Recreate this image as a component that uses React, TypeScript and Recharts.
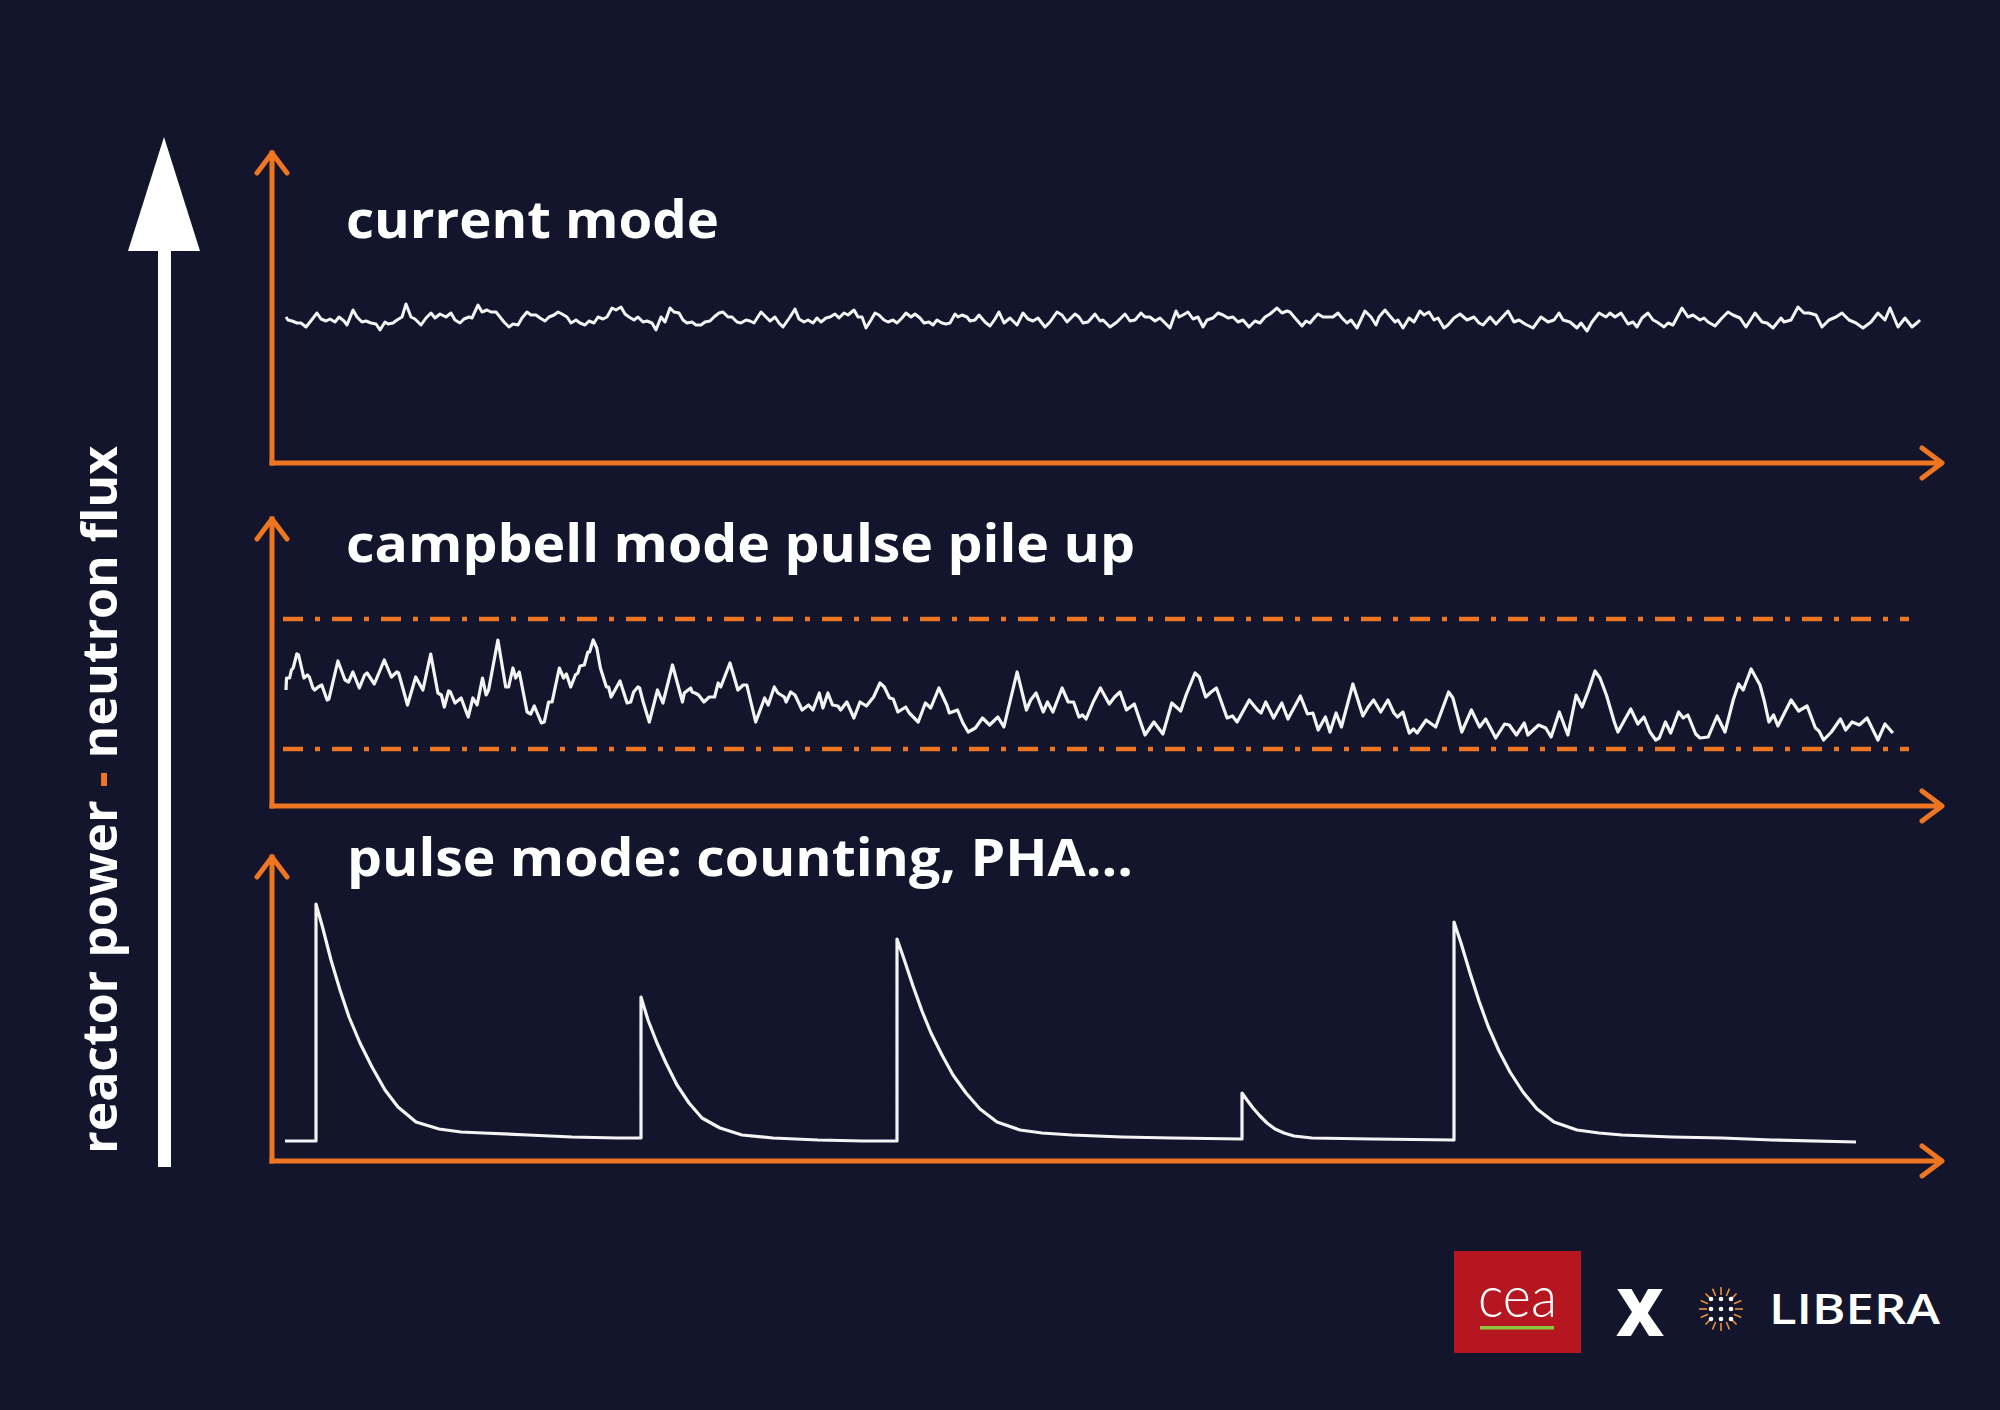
import React from 'react';
import { LineChart, Line, XAxis, YAxis, ReferenceLine, ReferenceDot } from 'recharts';

const W = 2000;
const H = 1410;
const BG = '#12152b';
const ORANGE = '#ee7623';
const TRACE = '#f4f4f4';
const FONT = "'Open Sans', 'DejaVu Sans', sans-serif";

// shared time axis (arbitrary units) and signal-amplitude axes for each panel
const TIME_DOMAIN: [number, number] = [0, 1668];
const CURRENT_DOMAIN: [number, number] = [0, 310];
const CAMPBELL_DOMAIN: [number, number] = [0, 287];
const PULSE_DOMAIN: [number, number] = [0, 304];

const PANEL_TITLES = ['current mode', 'campbell mode pulse pile up', 'pulse mode: counting, PHA...'];
const FLUX_LABEL = ['reactor power ', '-', ' neutron flux'];

// current mode: small noise around a constant level
const currentSignal: [number, number][] = [
  [14,146],[16,143],[20,142],[25,140],[29,140],[34,136],[38,141],[45,150],[49,144],[54,142],[58,144],[63,141],[67,146],[72,142],[75,138],[81,153],[85,146],[90,141],[94,142],[99,140],[104,139],[108,133],[113,141],[116,139],[121,140],[125,143],[130,146],[134,159],[139,146],[143,144],[149,138],[154,145],[159,150],[163,145],[168,149],[174,146],[179,150],[183,143],[188,140],[192,144],[197,146],[200,145],[206,158],[210,151],[215,153],[219,151],[224,151],[228,146],[232,141],[237,136],[241,139],[246,138],[250,145],[255,151],[259,148],[264,148],[268,145],[273,142],[277,146],[282,148],[286,151],[290,149],[295,146],[299,140],[304,143],[308,140],[313,138],[317,142],[322,140],[326,146],[331,144],[335,146],[340,155],[344,153],[349,156],[353,149],[357,146],[362,143],[366,146],[371,141],[375,142],[380,140],[384,133],[389,146],[393,141],[398,155],[402,151],[407,150],[411,143],[415,140],[420,141],[424,138],[429,138],[433,141],[438,142],[442,146],[447,150],[451,151],[456,146],[460,146],[465,141],[469,140],[474,143],[478,142],[482,140],[489,151],[494,146],[498,142],[503,146],[507,140],[511,136],[518,146],[523,154],[527,144],[532,141],[536,143],[541,140],[545,145],[549,141],[554,145],[558,146],[563,149],[567,145],[572,150],[576,148],[582,153],[586,146],[590,146],[594,135],[599,143],[603,150],[607,148],[612,143],[616,141],[621,143],[625,140],[630,145],[634,150],[639,146],[643,149],[648,145],[652,140],[657,141],[661,138],[665,143],[670,140],[674,139],[678,140],
  [683,149],[686,146],[690,148],[695,146],[698,142],[703,143],[707,148],[713,141],[718,137],[723,144],[727,151],[732,140],[738,145],[745,138],[751,150],[756,144],[761,142],[766,145],[773,136],[778,141],[785,151],[790,148],[795,141],[798,144],[803,149],[807,146],[811,140],[816,141],[823,149],[828,142],[831,143],[838,136],[845,141],[850,146],[853,149],[858,142],[863,143],[869,150],[873,146],[878,146],[883,142],[888,145],[893,140],[898,135],[904,152],[907,146],[911,148],[916,151],[921,144],[926,146],[931,136],[935,143],[941,145],[946,150],[951,148],[956,145],[961,146],[966,141],[971,143],[977,136],[983,142],[988,140],[993,146],[998,149],[1005,155],[1010,150],[1015,152],[1018,151],[1023,145],[1030,137],[1034,142],[1038,140],[1043,146],[1046,149],[1051,146],[1058,146],
  [1061,146],[1066,150],[1070,145],[1075,140],[1079,143],[1085,135],[1093,152],[1099,146],[1104,138],[1107,146],[1113,153],[1117,148],[1123,141],[1126,143],[1131,135],[1137,145],[1142,141],[1148,152],[1152,148],[1157,151],[1162,143],[1166,145],[1172,135],[1176,138],[1182,145],[1188,149],[1195,143],[1202,146],[1207,140],[1211,138],[1218,146],[1224,139],[1236,152],[1242,141],[1247,143],[1253,139],[1261,135],[1269,146],[1276,141],[1282,143],[1287,150],[1291,143],[1298,141],[1305,135],[1309,140],[1315,132],[1320,141],[1327,150],[1334,146],[1338,150],[1343,146],[1349,150],[1356,139],[1361,141],[1365,136],[1370,145],[1376,150],[1381,143],[1385,141],[1392,136],[1396,140],[1401,138],[1410,155],[1416,146],[1421,148],[1428,143],[1432,145],[1436,141],[1443,137],[1450,145],[1456,151],[1461,148],[1468,145],[1474,136],[1483,150],[1490,141],[1495,140],[1501,135],[1509,145],[1512,141],[1519,143],[1526,156],[1532,150],[1537,150],[1544,148],[1550,136],[1557,143],[1564,146],[1570,150],[1577,143],[1584,140],[1591,135],[1599,141],[1606,150],[1613,143],[1618,155],[1626,136],[1633,145],[1640,136],[1646,141],[1648,143],
];

// campbell mode: piled-up pulses, fluctuating between two bounds
const campbellSignal: [number, number][] = [
  [14,116],[14.5,128],[17.6,128],[19.4,136],[21.2,138],[24.8,152],[26.6,151],[31.9,128],[35.5,131],[37.3,129],[40.9,118],[42.6,116],[46.2,119],[49.8,121],[55.1,106],[56.9,107],[65.9,145],[73,126],[76.6,124],[80.9,134],[87.3,118],[92.6,131],[95.1,133],[102.3,122],[112.3,146],[119.4,129],[124.8,134],[126.6,133],[135.5,101],[143.7,129],[150.9,116],[158.7,152],[165.9,113],[169.4,111],[172.3,99],[176.6,115],[178.4,114],[183,103],[189.1,108],[196.2,89],[200.9,108],[205.1,101],[210.5,128],[214.1,111],[216.6,116],[225.9,166],[233.7,119],[236.6,119],[240.9,138],[243.7,128],[247.3,134],[255.1,94],[258.7,92],[262.3,100],[269.4,83],[272.3,84],[276.6,104],[280.1,104],[287.3,138],[291.6,128],[294.4,132],[298.7,119],[303.4,131],[305.9,133],[308,140],[312.3,141],[315.9,154],[317.6,154],[321.2,166],[324.8,158],[328.4,138],[334.4,119],[336.6,119],[339.1,109],[348,125],[355.1,103],[358.7,104],[361.6,114],[365.9,119],[367.6,118],[371.2,104],[377.3,84],[385.5,116],[390.9,103],[400.5,141],[410.5,104],[412.3,113],[418.7,118],[420.1,114],[423,113],[426.6,111],[431.9,104],[437.3,109],[442.6,109],[446.2,123],[448.7,119],[458,143],[465.9,116],[471.2,121],[474.8,121],[483.7,84],[492.6,108],[496.2,101],[502.3,119],[505.9,113],[512.3,109],[514.1,104],[518.7,114],[523,111],[530.1,96],[536.6,101],[540.9,96],[547.3,113],[550.9,98],[555.9,113],
  [560.5,101],[565.9,100],[568.7,96],[574.8,104],[581.9,88],[588,104],[594.4,100],[601.6,109],[608,123],[612.3,119],[617.6,108],[621.2,107],[625.9,94],[633.7,99],[637.3,93],[646.2,84],[653.4,103],[658.7,98],[666.9,118],[674.8,101],[677.3,93],[685.5,96],[690.9,83],[696.2,74],[703.4,78],[710.5,88],[717.6,81],[725.9,89],[731.9,79],[745.1,134],[754.4,96],[758.7,106],[764.1,113],[771.2,94],[775.5,104],[780.9,94],[790.1,118],[796.2,104],[801.6,104],[806.9,89],[810.5,91],[814.1,87],[821.2,104],[828.4,118],[837.3,102],[842.6,109],[848,114],[854.4,96],[862.3,102],[873,71],[881.9,84],[890.9,72],[899.8,103],[908.7,95],[914.1,111],[923,133],[927.3,129],[933.7,109],[939.1,114],[944.4,118],[955.1,88],[960.5,90],[965.1,84],[977.3,106],[985.5,96],[989.1,93],[993.7,104],[1001.6,88],[1009.8,103],[1015.9,87],[1028.4,110],[1035.5,92],[1040.9,93],[1046.2,76],[1053.4,89],[1058,74],[1064.1,93],[1069.4,79],[1080.9,122],[1090.9,90],[1096.2,99],[1101.6,106],
  [1108.7,94],[1115.9,106],[1121.9,93],[1125.5,89],[1130.9,94],[1137.3,73],[1141.6,77],[1145.1,73],[1154.1,86],[1163.7,79],[1176.6,114],[1180.9,108],[1189.8,74],[1199.4,96],[1207.6,79],[1213.7,87],[1223.7,68],[1232.6,82],[1237.3,81],[1244.4,71],[1252.3,83],[1255.9,71],[1266.6,81],[1273.7,78],[1279.1,69],[1287.3,94],[1295.9,71],[1304.1,111],[1310.1,99],[1316.6,116],[1323,135],[1328,128],[1334.4,111],[1342.3,84],[1345.9,74],[1358.7,97],[1365.9,82],[1371.9,89],[1378,74],[1383.7,66],[1387.3,68],[1393.4,84],[1398.7,73],[1406.6,94],[1411.2,88],[1415.9,91],[1423.7,72],[1428,68],[1436.2,69],[1445.1,90],[1453,74],[1461.2,106],[1466.6,122],[1471.2,116],[1479.1,137],[1488,121],[1492.3,105],[1496.9,84],[1501.6,91],[1505.9,80],[1519.1,106],[1526.6,95],[1535.1,100],[1543.4,78],[1547,75],[1551.6,66],[1559.4,74],[1568.4,87],[1573.7,76],[1580.1,84],[1587.3,81],[1595.1,88],[1605.9,66],[1613,82],[1620.9,73],
];
const campbellBounds = [57, 187];
const campbellBoundSpan: [number, number] = [11, 1637];

// pulse mode: separated pulses with fast rise and exponential-like decay
const pulseSignal: [number, number][] = [
  [13,20],[44,20],[44,257],[50.5,234],[59,201],[68,171],[77,144],[88,118],[100,94],[113,71],[126,54],[144,39],[167,32],[189,29],[211,28],[256,26],[300,24],[345,23],[369,23],
  [369,164],[376,141],[385,118],[394,98],[405,76],[417,58],[430,43],[448,33],[470,26],[501,23],[546,21],[591,20],[625,20],
  [625,222],[632,202],[641,175],[650,150],[659,128],[670,106],[681,86],[694,68],[708,52],[725,39],[748,31],[770,28],[800,26],[850,24],[900,23],[970,22],
  [970,68],[975,61],[981,53],[988,45],[995,38],[1003,32],[1012,28],[1022,25],[1040,23],[1100,22],[1182,21],
  [1182,239],[1189,218],[1198,188],[1207,160],[1216,135],[1227,110],[1238,89],[1251,69],[1265,52],[1282,39],[1305,31],[1327,28],[1350,26],[1400,24],[1450,23],[1500,21],[1584,19],
];

const XArrow = (p: any) => (
  <path
    d={`M${p.cx - 18},${p.cy - 15} L${p.cx + 2},${p.cy} L${p.cx - 18},${p.cy + 15}`}
    fill="none" stroke={ORANGE} strokeWidth={5} strokeLinecap="round" strokeLinejoin="round"
  />
);
const YArrow = (p: any) => (
  <path
    d={`M${p.cx - 15},${p.cy + 20} L${p.cx},${p.cy} L${p.cx + 15},${p.cy + 20}`}
    fill="none" stroke={ORANGE} strokeWidth={5} strokeLinecap="round" strokeLinejoin="round"
  />
);

type PanelProps = {
  top: number;
  height: number;
  mt: number;
  mb: number;
  domain: [number, number];
  data: [number, number][];
  strokeWidth: number;
  children?: React.ReactNode;
};

function Panel({ top, height, mt, mb, domain, data, strokeWidth, children }: PanelProps) {
  const rows = data.map(([t, v]) => ({ t, v }));
  const axisLine = { stroke: ORANGE, strokeWidth: 5, strokeLinecap: 'square' };
  return (
    <div style={{ position: 'absolute', left: 0, top, width: W, height }}>
      <LineChart width={W} height={height} margin={{ top: mt, right: 60, bottom: mb - 1, left: 271 }}>
        <XAxis dataKey="t" type="number" domain={TIME_DOMAIN} allowDataOverflow tick={false} tickLine={false} height={1} axisLine={axisLine as any} />
        <YAxis type="number" domain={domain} allowDataOverflow tick={false} tickLine={false} width={1} axisLine={axisLine as any} />
        {children}
        <Line data={rows} dataKey="v" type="linear" stroke={TRACE} strokeWidth={strokeWidth} strokeLinejoin="round" dot={false} activeDot={false} isAnimationActive={false} />
        <ReferenceDot x={TIME_DOMAIN[1]} y={domain[0]} r={0} ifOverflow="visible" shape={XArrow} />
        <ReferenceDot x={TIME_DOMAIN[0]} y={domain[1]} r={0} ifOverflow="visible" shape={YArrow} />
      </LineChart>
    </div>
  );
}

function Starburst({ cx, cy }: { cx: number; cy: number }) {
  const rays = Array.from({ length: 16 }, (_, i) => (i * Math.PI) / 8);
  const dots = [-10, 0, 10];
  return (
    <g>
      {rays.map((a, i) => (
        <line key={i} x1={cx + 14 * Math.cos(a)} y1={cy + 14 * Math.sin(a)} x2={cx + 22 * Math.cos(a)} y2={cy + 22 * Math.sin(a)} stroke="#e8913a" strokeWidth={1.6} />
      ))}
      {dots.map((dx) => dots.map((dy) => <circle key={`${dx}_${dy}`} cx={cx + dx} cy={cy + dy} r={2.3} fill="#ffffff" />))}
    </g>
  );
}

export default function App() {
  return (
    <div style={{ position: 'absolute', left: 0, top: 0, width: W, height: H, background: BG, overflow: 'hidden' }}>
      <svg width={W} height={H} style={{ position: 'absolute', left: 0, top: 0 }}>
        <rect width={W} height={H} fill={BG} />
        {/* big power arrow */}
        <polygon points="164,137 128,251 200,251" fill="#ffffff" />
        <rect x={158} y={249} width={13} height={918} fill="#ffffff" />
        <text transform="translate(117,1154) rotate(-90)" fontFamily={FONT} fontWeight={700} fontSize={48} fill="#ffffff" textLength={708} lengthAdjust="spacingAndGlyphs">
          <tspan>{FLUX_LABEL[0]}</tspan>
          <tspan fill={ORANGE}>{FLUX_LABEL[1]}</tspan>
          <tspan>{FLUX_LABEL[2]}</tspan>
        </text>
        {/* panel titles */}
        <text x={346} y={238} fontFamily={FONT} fontWeight={700} fontSize={52} fill="#ffffff" textLength={373} lengthAdjust="spacingAndGlyphs">{PANEL_TITLES[0]}</text>
        <text x={346} y={562} fontFamily={FONT} fontWeight={700} fontSize={52} fill="#ffffff" textLength={789} lengthAdjust="spacingAndGlyphs">{PANEL_TITLES[1]}</text>
        <text x={347} y={876} fontFamily={FONT} fontWeight={700} fontSize={52} fill="#ffffff" textLength={786} lengthAdjust="spacingAndGlyphs">{PANEL_TITLES[2]}</text>
        {/* logos */}
        <rect x={1454} y={1251} width={127} height={102} fill="#b5161f" />
        <text x={1478} y={1317} fontFamily="Lato, 'Open Sans', sans-serif" fontWeight={300} fontSize={58} fill="#ffffff" textLength={79} lengthAdjust="spacingAndGlyphs">cea</text>
        <rect x={1480} y={1326} width={74} height={3.5} fill="#8cc63e" />
        <text x={1640} y={1336} textAnchor="middle" fontFamily={FONT} fontWeight={800} fontSize={66} fill="#ffffff">X</text>
        <Starburst cx={1721} cy={1309} />
        <text x={1769} y={1324} fontFamily={FONT} fontWeight={600} fontSize={42} fill="#ffffff" textLength={171} lengthAdjust="spacingAndGlyphs">LIBERA</text>
      </svg>

      <Panel top={120} height={370} mt={33} mb={27} domain={CURRENT_DOMAIN} data={currentSignal} strokeWidth={3} />

      <Panel top={490} height={340} mt={29} mb={24} domain={CAMPBELL_DOMAIN} data={campbellSignal} strokeWidth={3.2}>
        {campbellBounds.map((b) => (
          <ReferenceLine
            key={b}
            segment={[{ x: campbellBoundSpan[0], y: b }, { x: campbellBoundSpan[1], y: b }]}
            stroke={ORANGE}
            strokeWidth={4.5}
            strokeDasharray="20 12 5 12"
            ifOverflow="visible"
          />
        ))}
      </Panel>

      <Panel top={830} height={360} mt={27} mb={29} domain={PULSE_DOMAIN} data={pulseSignal} strokeWidth={3.2} />
    </div>
  );
}
